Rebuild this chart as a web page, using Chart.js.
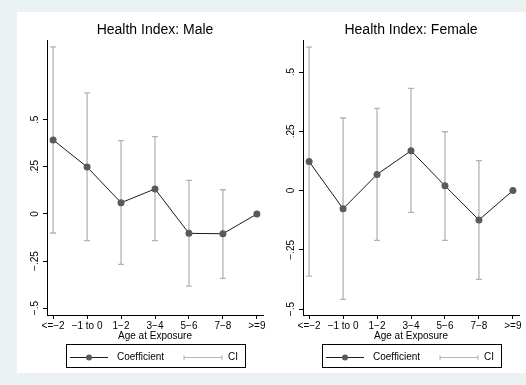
<!DOCTYPE html>
<html>
<head>
<meta charset="utf-8">
<script src="https://cdn.jsdelivr.net/npm/chart.js@4.4.1/dist/chart.umd.min.js"></script>
<style>
  html, body { margin: 0; padding: 0; background: #eaf2f3; }
  #wrap { position: relative; width: 526px; height: 385px; overflow: hidden; }
  #panel { position: absolute; left: 17px; top: 12px; width: 509px; height: 361px; background: #fff; }
  canvas { position: absolute; top: 12px; }
  #maleChart { left: 17px; }
  #femaleChart { left: 273px; }
</style>
</head>
<body>
<div id="wrap">
  <div id="panel"></div>
  <canvas id="maleChart" width="256" height="361"></canvas>
  <canvas id="femaleChart" width="253" height="361"></canvas>
</div>
<script>
// ===== Data =====
const categories = ['<=\u22122', '\u22121 to 0', '1\u22122', '3\u22124', '5\u22126', '7\u22128', '>=9'];

const yTicks = [-0.5, -0.25, 0, 0.25, 0.5];
const yTickLabels = ['\u2212.5', '\u2212.25', '0', '.25', '.5'];

const maleCoef = [0.394, 0.25, 0.060, 0.133, -0.103, -0.105, 0];
const maleLow  = [-0.101, -0.142, -0.268, -0.142, -0.383, -0.342, null];
const maleHigh = [0.888, 0.644, 0.390, 0.411, 0.179, 0.129, null];

const femaleCoef = [0.122, -0.077, 0.068, 0.168, 0.020, -0.124, 0];
const femaleLow  = [-0.361, -0.459, -0.210, -0.092, -0.210, -0.375, null];
const femaleHigh = [0.605, 0.306, 0.347, 0.431, 0.248, 0.126, null];

const FONT = "'Liberation Sans', Arial, Helvetica, sans-serif";
const ciColor = '#b4b4b4';
const lineColor = '#1a1a1a';
const pointColor = '#5a5a5a';

// ===== CI caps, title, vertical y labels, legend =====
const stataExtras = {
  id: 'stataExtras',
  beforeDatasetsDraw(chart, args, opts) {
    const { ctx, scales: { x, y } } = chart;
    ctx.save();
    ctx.strokeStyle = ciColor;
    ctx.lineWidth = 1.3;
    opts.low.forEach((lo, i) => {
      const hi = opts.high[i];
      if (lo == null || hi == null) return;
      const px = x.getPixelForValue(i);
      const y1 = y.getPixelForValue(lo);
      const y2 = y.getPixelForValue(hi);
      ctx.beginPath();
      ctx.moveTo(px, y1); ctx.lineTo(px, y2);
      ctx.moveTo(px - 3, y1); ctx.lineTo(px + 3, y1);
      ctx.moveTo(px - 3, y2); ctx.lineTo(px + 3, y2);
      ctx.stroke();
    });
    ctx.restore();
  },
  afterDraw(chart, args, opts) {
    const { ctx, chartArea: a, scales: { y } } = chart;
    const cx = (a.left + a.right) / 2;
    ctx.save();
    ctx.fillStyle = '#000';
    ctx.textAlign = 'center';
    ctx.textBaseline = 'middle';

    // title
    ctx.font = '14px ' + FONT;
    ctx.fillText(opts.title, cx, a.top - 9.5);

    // rotated y tick labels
    ctx.font = '10px ' + FONT;
    y.ticks.forEach((t, i) => {
      ctx.save();
      ctx.translate(a.left - 12, y.getPixelForValue(t.value));
      ctx.rotate(-Math.PI / 2);
      ctx.fillText(yTickLabels[i], 0, 0);
      ctx.restore();
    });

    // legend box
    const lx = Math.round(cx - 89.5) + 0.5;
    const ly = Math.round(a.bottom + 29) + 0.5;
    ctx.strokeStyle = '#000';
    ctx.lineWidth = 1;
    ctx.strokeRect(lx, ly, 179, 23);
    const my = ly + 13;

    ctx.strokeStyle = lineColor;
    ctx.beginPath();
    ctx.moveTo(cx - 85, my); ctx.lineTo(cx - 47, my);
    ctx.stroke();
    ctx.fillStyle = pointColor;
    ctx.beginPath();
    ctx.arc(cx - 66, my, 3, 0, Math.PI * 2);
    ctx.fill();

    ctx.strokeStyle = ciColor;
    ctx.beginPath();
    ctx.moveTo(cx + 29, my); ctx.lineTo(cx + 67, my);
    ctx.moveTo(cx + 29, my - 2.5); ctx.lineTo(cx + 29, my + 2.5);
    ctx.moveTo(cx + 67, my - 2.5); ctx.lineTo(cx + 67, my + 2.5);
    ctx.stroke();

    ctx.fillStyle = '#000';
    ctx.textAlign = 'left';
    ctx.fillText('Coefficient', cx - 38, my);
    ctx.fillText('CI', cx + 73, my);
    ctx.restore();
  }
};

// ===== Panel chart =====
function makePanel(id, title, coef, low, high, yMin, yMax, padRight) {
  return new Chart(document.getElementById(id), {
    type: 'line',
    data: {
      datasets: [{
        data: coef.map((v, i) => ({ x: i, y: v })),
        borderColor: lineColor,
        borderWidth: 1,
        tension: 0,
        pointRadius: 3.5,
        pointBackgroundColor: pointColor,
        pointBorderWidth: 0,
      }]
    },
    options: {
      responsive: false,
      animation: false,
      layout: { padding: { left: 0, top: 28, right: padRight, bottom: 28 } },
      plugins: {
        legend: { display: false },
        tooltip: { enabled: false },
        stataExtras: { title, low, high }
      },
      scales: {
        x: {
          type: 'linear',
          min: -0.18,
          max: 6.18,
          afterBuildTicks: s => { s.ticks = categories.map((c, i) => ({ value: i })); },
          afterFit: s => { s.height = 30; },
          ticks: {
            autoSkip: false, maxRotation: 0, padding: 1, color: '#000',
            font: { family: FONT, size: 10 },
            callback: v => categories[v]
          },
          grid: { drawOnChartArea: false, drawTicks: true, tickLength: 4, color: '#000' },
          border: { color: '#000', width: 1 },
          title: {
            display: true, text: 'Age at Exposure', color: '#000',
            font: { family: FONT, size: 10 }, padding: { top: 0, bottom: 3 }
          }
        },
        y: {
          min: yMin,
          max: yMax,
          afterBuildTicks: s => { s.ticks = yTicks.map(v => ({ value: v })); },
          afterFit: s => { s.width = 30; },
          ticks: { display: false },
          grid: { drawOnChartArea: false, drawTicks: true, tickLength: 4, color: '#000' },
          border: { color: '#000', width: 1 }
        }
      }
    },
    plugins: [stataExtras]
  });
}

makePanel('maleChart', 'Health Index: Male', maleCoef, maleLow, maleHigh, -0.537, 0.925, 10);
makePanel('femaleChart', 'Health Index: Female', femaleCoef, femaleLow, femaleHigh, -0.525, 0.635, 7);
</script>
</body>
</html>
